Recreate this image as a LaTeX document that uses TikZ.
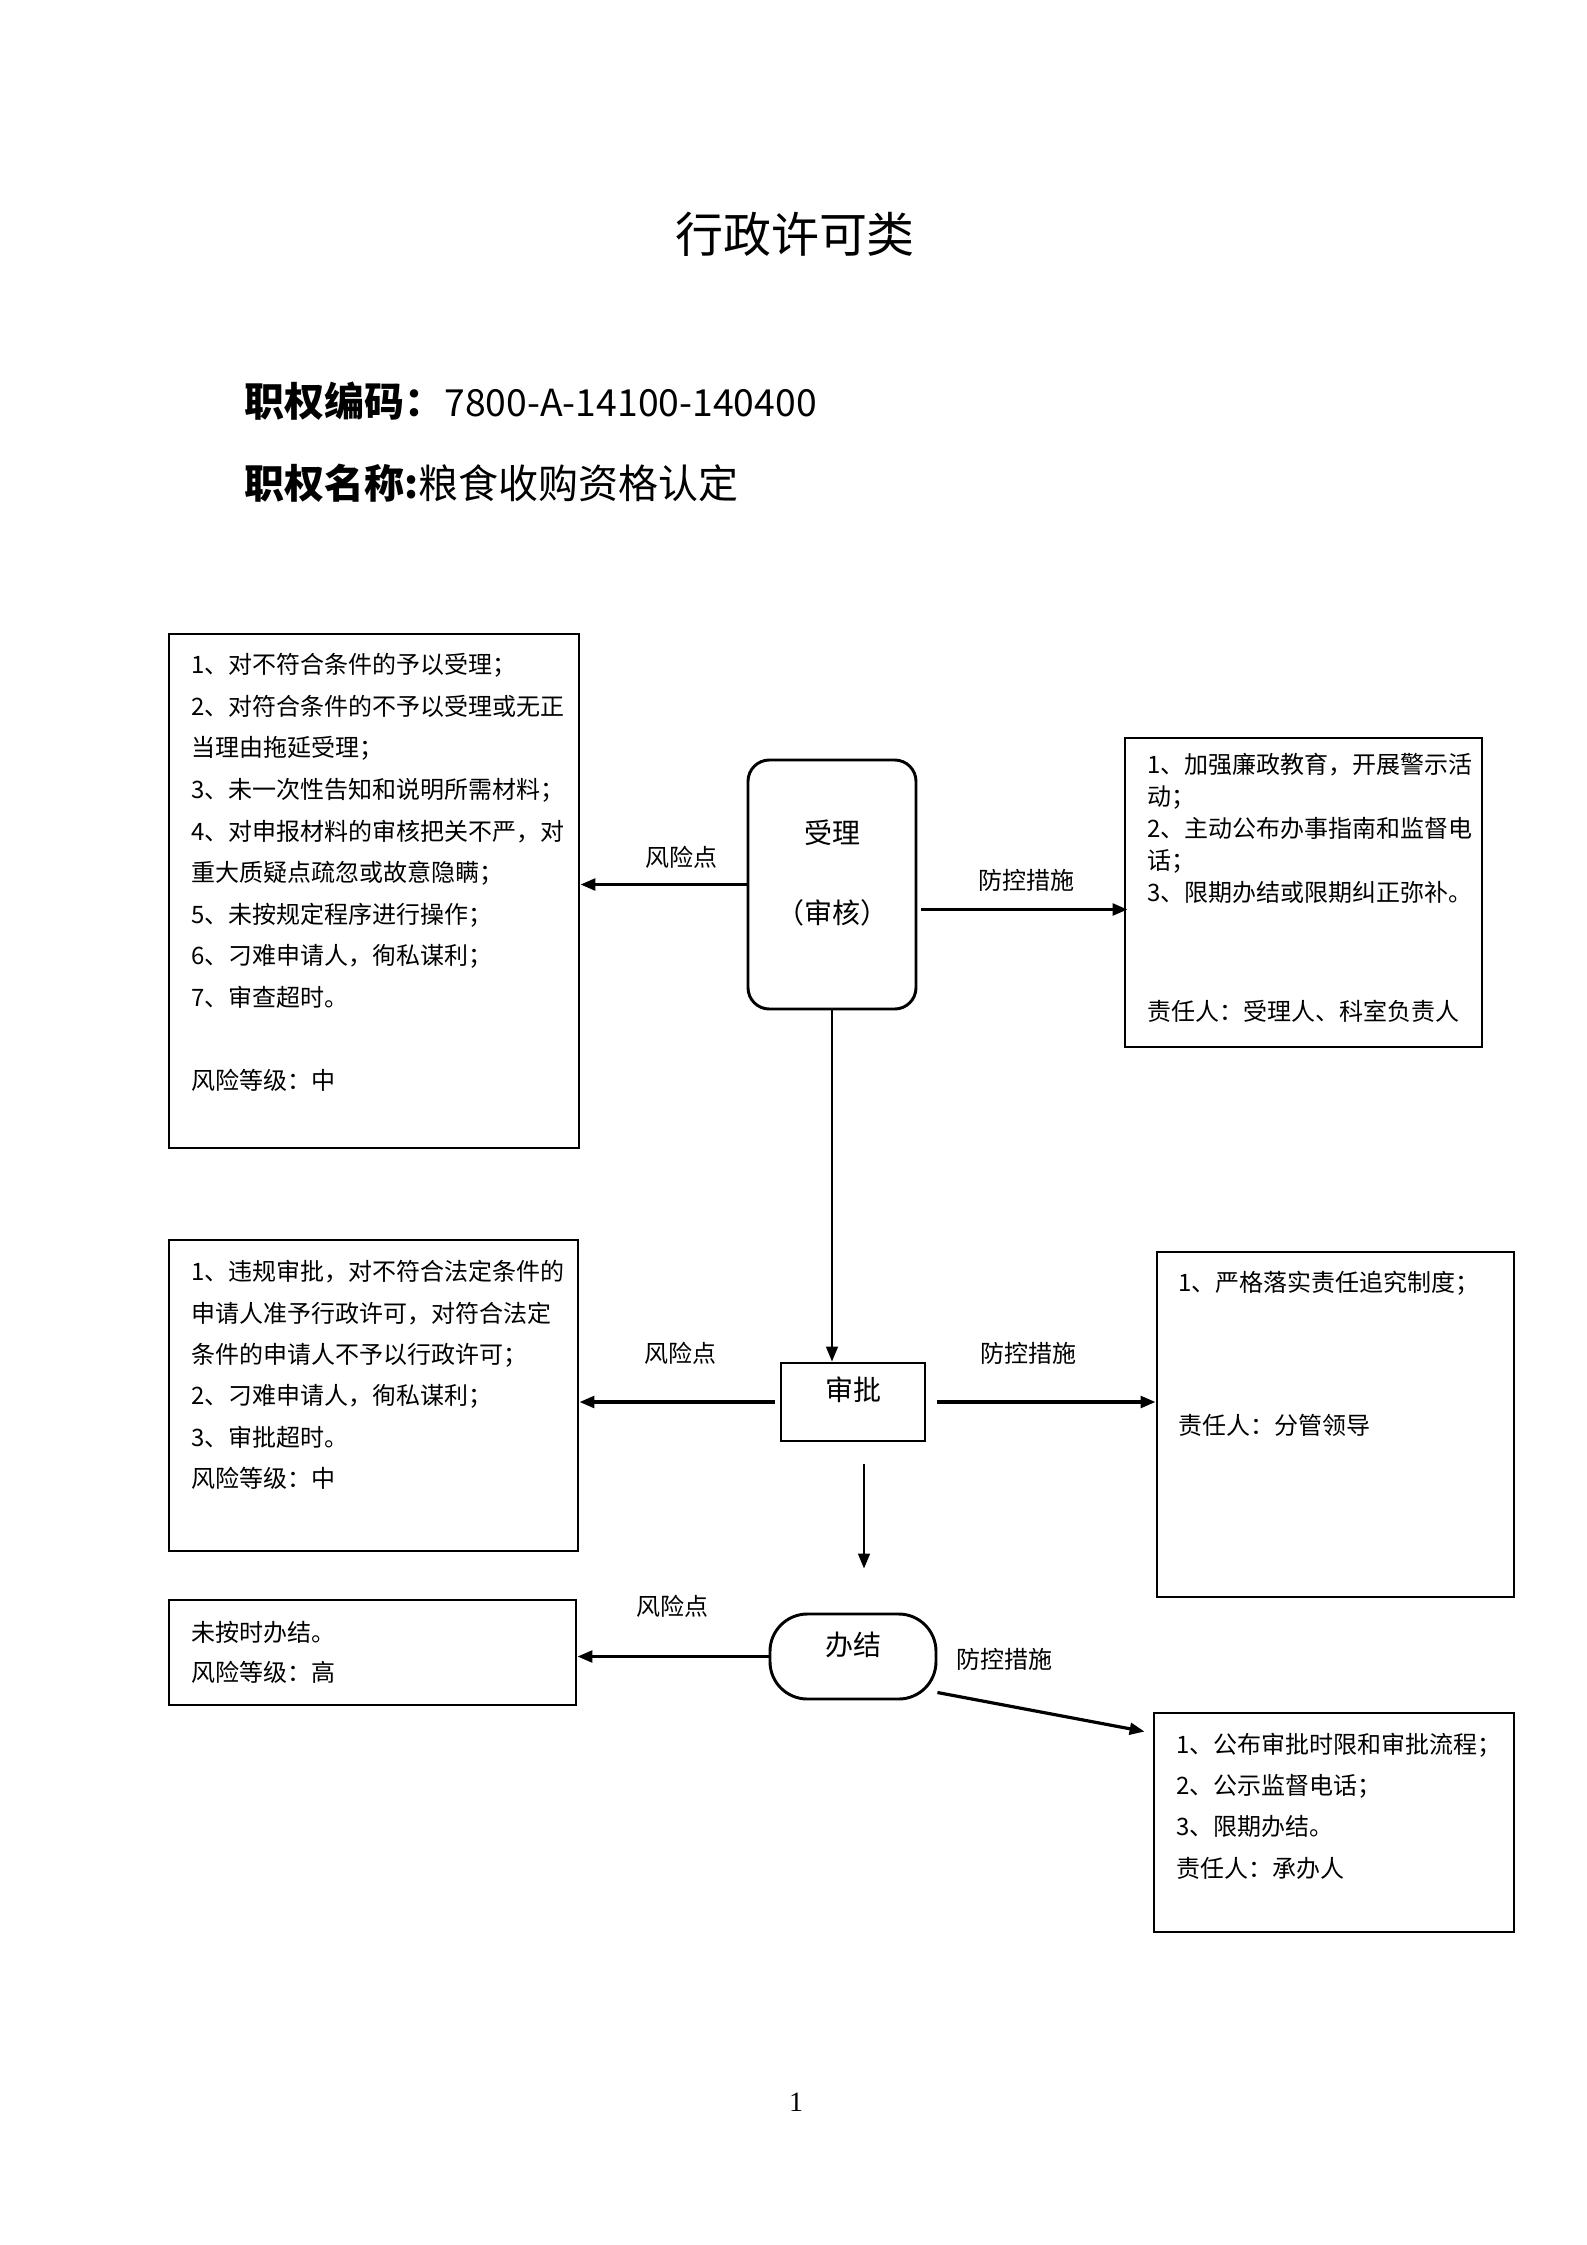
\documentclass[tikz,border=0pt]{standalone}
\usepackage{fontspec}
\setmainfont{Liberation Serif}
\newfontfamily\cjk{Noto Sans CJK SC}
\usetikzlibrary{arrows.meta}
\usetikzlibrary{fit}

\begin{document}
\begin{tikzpicture}[x=0.3751pt,y=-0.3751pt,
  box/.style={draw,line width=1.1pt,inner sep=0pt},
  txt/.style={inner sep=0pt,anchor=north west,align=left},
  lbl/.style={inner sep=0pt,font=\cjk\fontsize{9pt}{11pt}\selectfont},
  arr/.style={line width=1.2pt,-{Triangle[length=5.6pt,width=4.4pt]}},
  varr/.style={line width=0.8pt,-{Triangle[length=5.6pt,width=4.4pt]}}]
 \useasboundingbox (0,0) rectangle (1587,2245);
 % heading
 \node[font=\cjk\fontsize{18pt}{20pt}\selectfont] (title) at (795,234) {行政许可类};
 \node[anchor=west,inner sep=0pt] (code) at (244,401)
   {{\cjk\bfseries\fontsize{15pt}{17pt}\selectfont 职权编码：}{\cjk\fontsize{14pt}{17pt}\selectfont 7800-A-14100-140400}};
 \node[anchor=west,inner sep=0pt] (name) at (244,483)
   {{\cjk\bfseries\fontsize{15pt}{17pt}\selectfont 职权名称:}{\cjk\fontsize{15pt}{17pt}\selectfont 粮食收购资格认定}};

 % steps
 \node[box,rounded corners=8pt,fit={(748,760) (916,1009)},align=center,
   font=\cjk\fontsize{10.5pt}{30pt}\selectfont] (sl) {受理\\（审核）};
 \node[box,fit={(781,1363) (925,1441)},font=\cjk\fontsize{10.5pt}{12pt}\selectfont] (sp) {审批};
 \node[box,rounded corners=14pt,fit={(770,1614) (936,1699)},font=\cjk\fontsize{10.5pt}{12pt}\selectfont] (bj) {办结};

 % risk boxes
 \node[box,fit={(169,634) (579,1148)}] (r1) {};
 \node[txt,font=\cjk\fontsize{9pt}{15.6pt}\selectfont] (r1t) at (191,653)
   {1、对不符合条件的予以受理；\\
    2、对符合条件的不予以受理或无正\\
    当理由拖延受理；\\
    3、未一次性告知和说明所需材料；\\
    4、对申报材料的审核把关不严，对\\
    重大质疑点疏忽或故意隐瞒；\\
    5、未按规定程序进行操作；\\
    6、刁难申请人，徇私谋利；\\
    7、审查超时。\\[15.6pt]
    风险等级：中};
 \node[box,fit={(169,1240) (578,1551)}] (r2) {};
 \node[txt,font=\cjk\fontsize{9pt}{15.5pt}\selectfont] (r2t) at (191,1260)
   {1、违规审批，对不符合法定条件的\\
    申请人准予行政许可，对符合法定\\
    条件的申请人不予以行政许可；\\
    2、刁难申请人，徇私谋利；\\
    3、审批超时。\\
    风险等级：中};
 \node[box,fit={(169,1600) (576,1705)}] (r3) {};
 \node[txt,font=\cjk\fontsize{9pt}{15pt}\selectfont] (r3t) at (191,1621)
   {未按时办结。\\
    风险等级：高};

 % control boxes
 \node[box,fit={(1125,738) (1482,1047)}] (m1) {};
 \node[txt,font=\cjk\fontsize{9pt}{12pt}\selectfont] (m1t) at (1147,753)
   {1、加强廉政教育，开展警示活\\
    动；\\
    2、主动公布办事指南和监督电\\
    话；\\
    3、限期办结或限期纠正弥补。\\[32.6pt]
    责任人：受理人、科室负责人};
 \node[box,fit={(1157,1252) (1514,1597)}] (m2) {};
 \node[txt,font=\cjk\fontsize{9pt}{15.6pt}\selectfont] (m2t) at (1178,1271)
   {1、严格落实责任追究制度；\\[38pt]
    责任人：分管领导};
 \node[box,fit={(1154,1713) (1514,1932)}] (m3) {};
 \node[txt,font=\cjk\fontsize{9pt}{15.4pt}\selectfont] (m3t) at (1176,1733)
   {1、公布审批时限和审批流程；\\
    2、公示监督电话；\\
    3、限期办结。\\
    责任人：承办人};

 % labels
 \node[lbl] (rp1) at (681,857) {风险点};
 \node[lbl] (pc1) at (1026,880) {防控措施};
 \node[lbl] (rp2) at (680,1353) {风险点};
 \node[lbl] (pc2) at (1028,1353) {防控措施};
 \node[lbl] (rp3) at (672,1606) {风险点};
 \node[lbl] (pc3) at (1004,1659) {防控措施};

 % arrows
 \draw[arr] (sl.west) -- (sl.west -| r1.east);
 \draw[arr] ([shift={(4,25)}]sl.east) -- ([shift={(4,25)}]sl.east -| m1.west);
 \draw[varr] (sl.south) -- (sl.south |- sp.north);
 \draw[arr] ([shift={(-5,0)}]sp.west) -- (sp.west -| r2.east);
 \draw[arr] ([shift={(11,0)}]sp.east) -- (sp.east -| m2.west);
 \draw[varr,shorten <=7.9pt,shorten >=16.5pt] ([shift={(11,0)}]sp.south) -- ([shift={(11,0)}]bj.north);
 \draw[arr] (bj.west) -- (bj.west -| r3.east);
 \draw[arr] ([shift={(0,36)}]bj.east) -- ([shift={(-8,20)}]m3.north west);

 \node[font=\fontsize{10.5pt}{12pt}\selectfont] (pg) at (796,2102) {1};
\end{tikzpicture}
\end{document}
